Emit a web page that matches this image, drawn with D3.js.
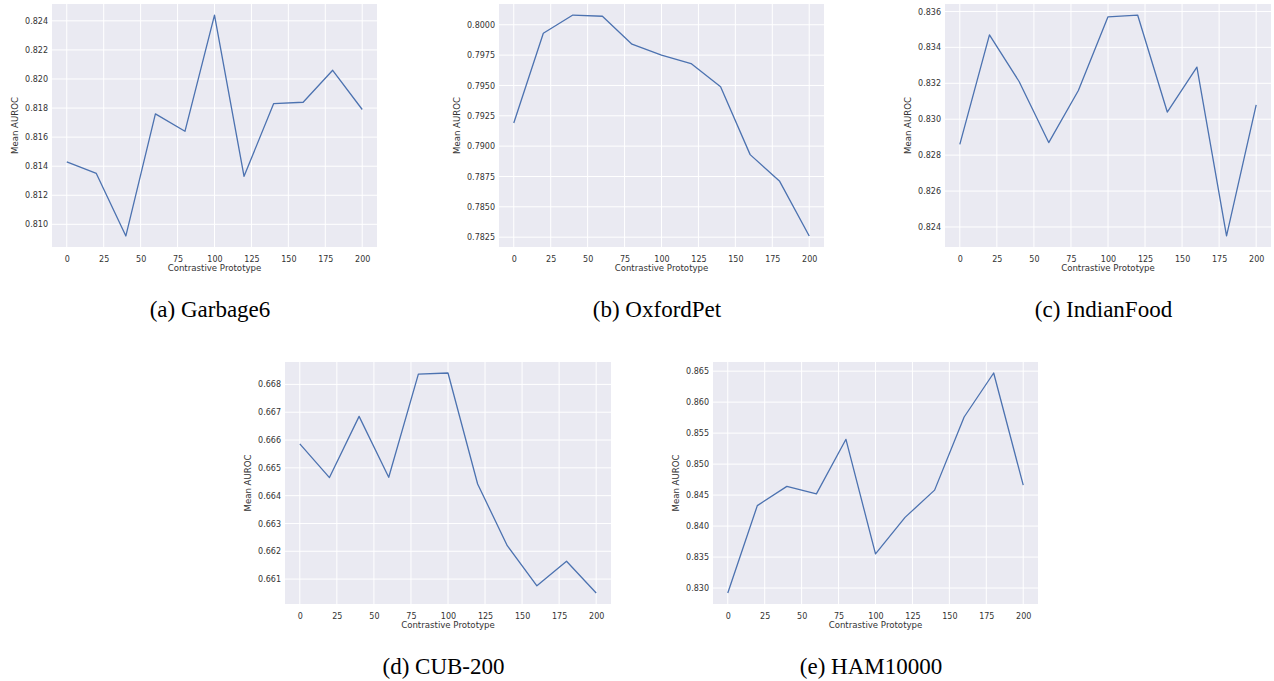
<!DOCTYPE html>
<html>
<head>
<meta charset="utf-8">
<script src="https://cdn.jsdelivr.net/npm/d3@7"></script>
<style>
  body { margin: 0; background: #fff; }
  svg text { font-family: "DejaVu Sans", sans-serif; }
</style>
</head>
<body>
<div id="chart"></div>
<script>
var svgWidth = 1274;
var svgHeight = 681;

// data
var prototypes = [0, 20, 40, 60, 80, 100, 120, 140, 160, 180, 200];
var xTicks = [0, 25, 50, 75, 100, 125, 150, 175, 200];

var garbage6 = [0.8143, 0.8135, 0.8092, 0.8176, 0.8164, 0.8244, 0.8133, 0.8183, 0.8184, 0.8206, 0.8179];
var oxfordPet = [0.7919, 0.7993, 0.8008, 0.8007, 0.7984, 0.7975, 0.7968, 0.7949, 0.7893, 0.7871, 0.7826];
var indianFood = [0.8286, 0.8347, 0.8321, 0.8287, 0.8316, 0.8357, 0.8358, 0.8304, 0.8329, 0.8235, 0.8308];
var cub200 = [0.66586, 0.66465, 0.66685, 0.66466, 0.66837, 0.66841, 0.66442, 0.66220, 0.66076, 0.66164, 0.66050];
var ham10000 = [0.8292, 0.8433, 0.8464, 0.8452, 0.8540, 0.8355, 0.8414, 0.8458, 0.8576, 0.8647, 0.8466];

var garbage6Ticks = [0.810, 0.812, 0.814, 0.816, 0.818, 0.820, 0.822, 0.824];
var oxfordPetTicks = [0.7825, 0.7850, 0.7875, 0.7900, 0.7925, 0.7950, 0.7975, 0.8000];
var indianFoodTicks = [0.824, 0.826, 0.828, 0.830, 0.832, 0.834, 0.836];
var cub200Ticks = [0.661, 0.662, 0.663, 0.664, 0.665, 0.666, 0.667, 0.668];
var ham10000Ticks = [0.830, 0.835, 0.840, 0.845, 0.850, 0.855, 0.860, 0.865];

var captions = ["(a) Garbage6", "(b) OxfordPet", "(c) IndianFood", "(d) CUB-200", "(e) HAM10000"];

var panels = [
    { values: garbage6, ticks: garbage6Ticks, fmt: ".3f", left: 52, top: 4, w: 325, h: 243, capY: 317 },
    { values: oxfordPet, ticks: oxfordPetTicks, fmt: ".4f", left: 499, top: 4, w: 325, h: 243, capY: 317 },
    { values: indianFood, ticks: indianFoodTicks, fmt: ".3f", left: 945, top: 4, w: 326, h: 243, capY: 317 },
    { values: cub200, ticks: cub200Ticks, fmt: ".3f", left: 285, top: 362, w: 326, h: 242, capY: 674 },
    { values: ham10000, ticks: ham10000Ticks, fmt: ".3f", left: 713, top: 362, w: 325, h: 242, capY: 674 }
];

var svg = d3.select("#chart")
    .append("svg")
    .attr("width", svgWidth)
    .attr("height", svgHeight);

function padded(ext) {
    var m = (ext[1] - ext[0]) * 0.05;
    return [ext[0] - m, ext[1] + m];
}

panels.forEach(function(p, i) {
    var g = svg.append("g")
        .attr("transform", `translate(${p.left}, ${p.top})`);

    var xScale = d3.scaleLinear()
        .domain(padded(d3.extent(prototypes)))
        .range([0, p.w]);

    var yScale = d3.scaleLinear()
        .domain(padded(d3.extent(p.values)))
        .range([p.h, 0]);

    g.append("rect")
        .attr("width", p.w)
        .attr("height", p.h)
        .attr("fill", "#eaeaf2");

    // grid
    g.selectAll(".vgrid")
        .data(xTicks)
        .enter()
        .append("line")
        .attr("x1", d => xScale(d))
        .attr("x2", d => xScale(d))
        .attr("y1", 0)
        .attr("y2", p.h)
        .attr("stroke", "#fff")
        .attr("stroke-width", 1);

    g.selectAll(".hgrid")
        .data(p.ticks)
        .enter()
        .append("line")
        .attr("x1", 0)
        .attr("x2", p.w)
        .attr("y1", d => yScale(d))
        .attr("y2", d => yScale(d))
        .attr("stroke", "#fff")
        .attr("stroke-width", 1);

    var bottomAxis = d3.axisBottom(xScale)
        .tickValues(xTicks)
        .tickSize(0)
        .tickPadding(9);

    var leftAxis = d3.axisLeft(yScale)
        .tickValues(p.ticks)
        .tickSize(0)
        .tickPadding(4)
        .tickFormat(d3.format(p.fmt));

    var xAxis = g.append("g")
        .attr("transform", `translate(0, ${p.h})`)
        .call(bottomAxis);

    var yAxis = g.append("g")
        .call(leftAxis);

    [xAxis, yAxis].forEach(function(a) {
        a.select(".domain").remove();
        a.selectAll("text")
            .attr("fill", "#333")
            .attr("font-size", "8px")
            .attr("font-family", "DejaVu Sans");
    });

    var maxW = 0;
    yAxis.selectAll("text").each(function() {
        maxW = Math.max(maxW, this.getComputedTextLength());
    });

    var line = d3.line()
        .x((d, j) => xScale(prototypes[j]))
        .y(d => yScale(d));

    g.append("path")
        .datum(p.values)
        .attr("d", line)
        .attr("fill", "none")
        .attr("stroke", "#4c72b0")
        .attr("stroke-width", 1.3)
        .attr("stroke-linejoin", "round");

    g.append("text")
        .attr("x", p.w / 2)
        .attr("y", p.h + 24)
        .attr("text-anchor", "middle")
        .attr("font-size", "8.6px")
        .attr("fill", "#333")
        .text("Contrastive Prototype");

    g.append("text")
        .attr("transform", `translate(${-4 - maxW - 7}, ${p.h / 2}) rotate(-90)`)
        .attr("text-anchor", "middle")
        .attr("font-size", "8.6px")
        .attr("fill", "#333")
        .text("Mean AUROC");

    svg.append("text")
        .attr("x", p.left + p.w / 2 - 4.5)
        .attr("y", p.capY)
        .attr("text-anchor", "middle")
        .style("font-family", "'Liberation Serif', 'Times New Roman', serif")
        .attr("font-size", "23px")
        .attr("fill", "#000")
        .text(captions[i]);
});
</script>
</body>
</html>
